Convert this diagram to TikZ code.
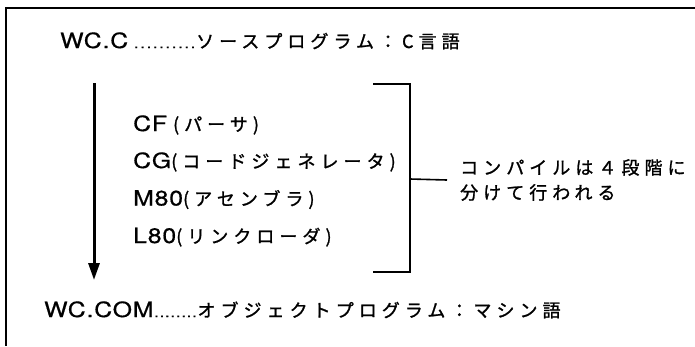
\documentclass[tikz,border=0pt]{standalone}
\usepackage{fontspec}
\setmainfont{TeX Gyre Heros}
\newfontfamily\jpfam{Noto Sans CJK JP}[LetterSpace=28,FakeBold=1.2]
\newfontfamily\ltfam{TeX Gyre Heros}[LetterSpace=4,FakeStretch=1.18,FakeBold=0.6]
\usetikzlibrary{arrows.meta}
\newcommand\latf{\fontsize{21}{24}\selectfont\ltfam}
\newcommand\jpf{\fontsize{18}{20}\selectfont\jpfam}
\newcommand\dotrun[2]{\hbox to #1{\xleaders\hbox to #2{\hss\fontsize{14}{16}\selectfont\ltfam.\hss}\hfill}}
\begin{document}
\begin{tikzpicture}[x=1pt,y=-1pt,
  txt/.style={inner sep=0pt, anchor=base west},
  frame/.style={line width=1.8pt},
  brk/.style={line width=1.6pt},
  flow/.style={line width=3pt,-{Triangle[length=17pt,width=11pt]}}]
\useasboundingbox (0,0) rectangle (695,346);
\fill[white] (0,0) rectangle (695,346);
% frame
\coordinate (ftr) at (695,8);
\coordinate (ftl) at (6,8);
\coordinate (fbl) at (6,346);
\draw[frame] (ftr) -- (ftl) -- (fbl);
% texts
\node[txt] (src) at (60,48) {\latf WC.C\hspace{5pt}\dotrun{63pt}{6.3pt}\jpf ソースプログラム：C言語};
\node[txt] (cf) at (133,131) {\latf CF\hspace{6pt}\jpf (パーサ)};
\node[txt] (cg) at (133,168) {\latf CG\jpf (コードジェネレータ)};
\node[txt] (m80) at (133,205.5) {\latf M80\jpf (アセンブラ)};
\node[txt] (l80) at (133,243) {\latf L80\jpf (リンクローダ)};
\node[txt] (obj) at (44,317) {\latf WC.COM\dotrun{44pt}{4.9pt}\jpf オブジェクトプログラム：マシン語};
% arrow
\coordinate (atop) at (94,83);
\coordinate (abot) at (94,280);
\draw[flow] (atop) -- (abot);
% bracket
\coordinate (bt) at (373,84);
\coordinate (bb) at (373,272);
\coordinate (bm) at (410,179);
\draw[brk] (bt) -| (bm) |- (bb);
\node[anchor=west, inner xsep=13pt, inner ysep=0pt, align=left,
      font=\fontsize{18}{25}\selectfont\jpfam] (note) at (447,180)
  {コンパイルは４段階に\\分けて行われる};
\draw[brk] (bm) -- (note.west);
\end{tikzpicture}
\end{document}
